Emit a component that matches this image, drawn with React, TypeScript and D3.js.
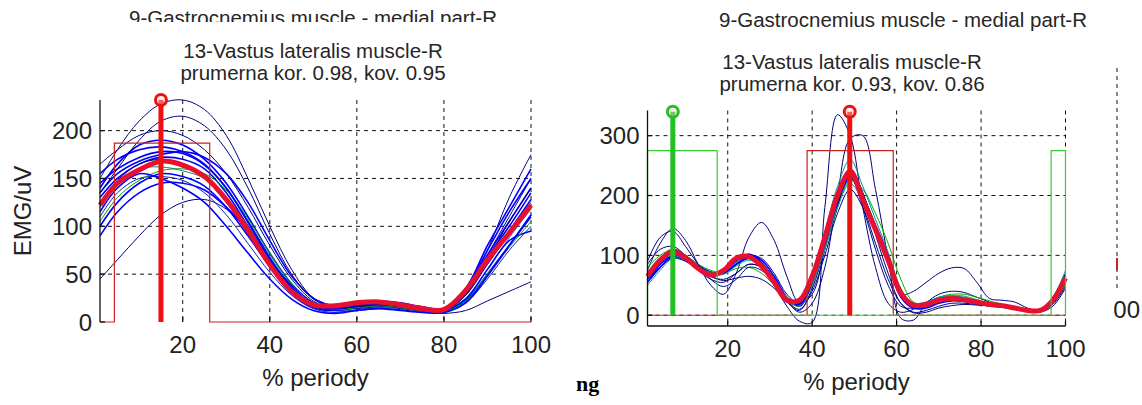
import * as d3 from "d3";
import React, { useEffect, useRef } from "react";

const W = 1142;
const H = 405;

// ---- left panel: 13-Vastus lateralis muscle-R ----
const periodL = [1, 5, 10, 15, 20, 25, 30, 35, 40, 45, 50, 55, 60, 65, 70, 75, 80, 85, 90, 95, 100];
const meanL = [122, 145, 159, 168, 164, 152, 128, 96, 60, 32, 18, 17, 20, 21, 18, 14, 13, 33, 65, 93, 122];
const curvesL = [
  [150, 180, 210, 228, 232, 222, 195, 150, 100, 55, 25, 15, 14, 16, 15, 12, 12, 30, 75, 130, 175],
  [45, 65, 90, 112, 125, 128, 118, 95, 65, 38, 20, 12, 12, 14, 13, 10, 9, 12, 22, 32, 42],
  [165, 180, 195, 200, 195, 180, 155, 120, 80, 45, 22, 14, 16, 18, 17, 14, 13, 28, 70, 110, 150],
  [130, 150, 165, 172, 170, 160, 135, 100, 65, 35, 18, 15, 18, 20, 18, 15, 14, 30, 62, 95, 128],
  [100, 125, 145, 155, 152, 142, 120, 90, 58, 30, 15, 12, 15, 17, 15, 12, 11, 22, 50, 80, 110],
  [140, 165, 185, 190, 185, 170, 145, 110, 72, 40, 20, 15, 18, 20, 18, 14, 13, 35, 75, 115, 150],
  [110, 135, 150, 152, 148, 135, 112, 82, 52, 28, 14, 10, 13, 15, 14, 11, 10, 20, 45, 75, 100],
  [155, 170, 180, 183, 178, 165, 140, 105, 68, 36, 18, 14, 17, 19, 17, 13, 12, 30, 70, 105, 140],
  [120, 145, 160, 162, 158, 150, 130, 100, 68, 38, 20, 16, 19, 21, 19, 15, 13, 25, 55, 88, 118],
  [90, 115, 135, 145, 145, 138, 120, 95, 65, 38, 20, 14, 16, 18, 16, 13, 12, 24, 55, 85, 95],
  [135, 155, 168, 175, 178, 172, 155, 125, 85, 48, 25, 17, 20, 22, 20, 16, 14, 35, 80, 120, 160],
  [125, 148, 165, 170, 165, 150, 125, 92, 58, 30, 16, 13, 16, 18, 16, 13, 12, 28, 60, 92, 125],
  [105, 130, 148, 158, 160, 155, 138, 108, 72, 40, 19, 13, 15, 17, 15, 12, 11, 22, 50, 78, 105],
  [145, 160, 172, 178, 176, 164, 140, 104, 66, 34, 17, 14, 17, 19, 17, 14, 13, 32, 68, 100, 135],
  [135, 160, 190, 210, 215, 205, 180, 140, 92, 50, 24, 15, 16, 18, 16, 13, 12, 28, 65, 105, 140],
  [115, 140, 155, 150, 140, 125, 100, 72, 45, 24, 12, 9, 12, 14, 12, 10, 10, 20, 48, 80, 112],
];
const colorsL = ["#000080", "#000080", "#000080", "#0000ff", "#0000ff", "#0000ff", "#1020c0", "#0000ff",
  "#008c8c", "#0000ff", "#0000ff", "#000080", "#00a000", "#0000ff", "#000080", "#0000ff"];
const activeL = [[4.3, 26.2]];
const activeLevelL = 187;
const peakL = { x: 15, y: 232 };
const yTicksL = [0, 50, 100, 150, 200];

// ---- right panel: 9-Gastrocnemius muscle - medial part-R ----
const periodR = [1, 4, 7, 10, 13, 16, 19, 22, 25, 28, 31, 34, 37, 40, 43, 46, 49, 52, 55, 58, 61, 64, 67, 70, 73, 76, 79, 82, 85, 88, 91, 94, 97, 100];
const meanR = [65, 92, 106, 96, 78, 67, 75, 95, 98, 82, 55, 25, 25, 65, 130, 200, 240, 193, 143, 92, 37, 17, 18, 25, 28, 26, 22, 18, 16, 12, 8, 8, 25, 62];
const curvesR = [
  [55, 85, 110, 100, 80, 65, 60, 70, 85, 80, 50, 15, -10, -12, 180, 335, 300, 180, 80, 20, 5, 10, 22, 28, 27, 24, 20, 17, 14, 10, 7, 7, 22, 55],
  [60, 80, 95, 90, 75, 60, 55, 70, 85, 80, 55, 25, 5, 20, 80, 200, 295, 300, 210, 95, -5, -8, 20, 35, 40, 38, 30, 22, 15, 10, 6, 8, 30, 70],
  [75, 120, 145, 125, 85, 50, 35, 70, 130, 155, 125, 65, 20, 35, 110, 200, 230, 180, 110, 50, 15, 12, 20, 30, 32, 28, 22, 18, 15, 12, 8, 10, 28, 70],
  [70, 95, 110, 100, 85, 72, 70, 85, 100, 95, 70, 35, 20, 55, 120, 190, 230, 200, 150, 90, 35, 40, 55, 70, 79, 78, 55, 28, 25, 22, 12, 8, 30, 65],
  [60, 85, 100, 95, 82, 72, 70, 85, 100, 92, 65, 30, 15, 55, 120, 185, 230, 195, 150, 100, 40, 15, 15, 22, 25, 25, 22, 18, 15, 12, 8, 8, 22, 55],
  [70, 95, 108, 98, 80, 68, 72, 90, 102, 88, 60, 28, 20, 60, 125, 195, 235, 190, 140, 85, 30, 12, 15, 22, 26, 24, 20, 17, 15, 12, 8, 9, 28, 65],
  [50, 75, 95, 92, 80, 72, 72, 88, 95, 85, 60, 30, 25, 70, 140, 215, 260, 215, 160, 105, 45, 18, 20, 28, 32, 30, 25, 20, 16, 12, 9, 10, 30, 75],
  [80, 100, 110, 100, 85, 75, 70, 78, 80, 70, 50, 25, 15, 50, 115, 180, 225, 210, 170, 120, 60, 22, 20, 30, 35, 35, 30, 24, 18, 13, 9, 8, 20, 50],
  [90, 130, 140, 115, 85, 60, 48, 60, 80, 75, 55, 25, 10, 40, 100, 170, 210, 180, 120, 60, 20, 5, 8, 15, 20, 20, 18, 15, 13, 10, 6, 5, 15, 45],
  [55, 80, 98, 92, 78, 68, 70, 85, 95, 85, 60, 28, 18, 55, 120, 190, 238, 200, 148, 90, 35, 12, 12, 20, 24, 23, 20, 17, 14, 11, 7, 7, 25, 60],
  [85, 110, 115, 100, 80, 65, 58, 62, 65, 60, 45, 22, 8, 45, 110, 180, 245, 205, 135, 70, 20, 4, 5, 12, 16, 18, 17, 16, 14, 12, 8, 6, 18, 48],
  [65, 90, 100, 92, 80, 70, 68, 82, 92, 82, 58, 30, 22, 55, 110, 180, 220, 190, 145, 95, 42, 20, 22, 30, 33, 32, 26, 20, 16, 12, 8, 9, 26, 65],
];
const colorsR = ["#000080", "#000080", "#000080", "#000080", "#0000ff", "#0000ff", "#008c8c",
  "#00b000", "#000080", "#0000ff", "#000080", "#1aa0a0"];
const redActiveR = [[38.8, 59.2]];
const greenActiveR = [[1, 17.5], [96.6, 100]];
const activeLevelR = 275;
const peaksR = [{ x: 7, y: 340, c: "#22c022" }, { x: 48.9, y: 340, c: "#ee1111" }];
const yTicksR = [0, 100, 200, 300];

const xTicks = [20, 40, 60, 80, 100];
const font = "'Liberation Sans', Arial, sans-serif";

function stepPoints(spans, level) {
  const pts = [[1, 0]];
  spans.forEach(([a, b]) => {
    pts.push([a, 0], [a, level], [b, level], [b, 0]);
  });
  pts.push([100, 0]);
  return pts;
}

function drawPanel(svg, p) {
  const x = d3.scaleLinear().domain([1, 100]).range([p.left, p.right]);
  const y = d3.scaleLinear().domain(p.yDomain).range([p.bottom, p.top]);
  const g = svg.append("g");

  // dotted grid
  g.append("g")
    .selectAll("line")
    .data(xTicks)
    .join("line")
    .attr("x1", (d) => x(d)).attr("x2", (d) => x(d))
    .attr("y1", p.top).attr("y2", p.bottom)
    .attr("stroke", "#111").attr("stroke-dasharray", "4,4");
  g.append("g")
    .selectAll("line")
    .data(p.yTicks.filter((d) => d > p.yDomain[0]))
    .join("line")
    .attr("x1", p.left).attr("x2", p.right)
    .attr("y1", (d) => y(d)).attr("y2", (d) => y(d))
    .attr("stroke", "#111").attr("stroke-dasharray", "4,4");

  const line = d3.line().x((d) => x(d[0])).y((d) => y(d[1])).curve(d3.curveCatmullRom);

  // single trials
  g.append("g")
    .attr("fill", "none")
    .selectAll("path")
    .data(p.curves)
    .join("path")
    .attr("d", (c) => line(c.map((v, i) => [p.period[i], v])))
    .attr("stroke", (c, i) => p.colors[i % p.colors.length])
    .attr("stroke-width", (c, i) => (p.colors[i % p.colors.length] === "#0000ff" ? 1.6 : 1));

  // mean curve
  g.append("path")
    .attr("d", line(p.mean.map((v, i) => [p.period[i], v])))
    .attr("fill", "none")
    .attr("stroke", "#e8102e")
    .attr("stroke-width", 5);

  // activity windows
  const stepLine = d3.line().x((d) => x(d[0])).y((d) => y(d[1]));
  p.steps.forEach((s) => {
    g.append("path")
      .attr("d", stepLine(stepPoints(s.spans, s.level)))
      .attr("fill", "none")
      .attr("stroke", s.color)
      .attr("stroke-width", 1.2);
  });

  // peak stems
  p.peaks.forEach((pk) => {
    g.append("line")
      .attr("x1", x(pk.x)).attr("x2", x(pk.x))
      .attr("y1", y(0)).attr("y2", y(pk.y))
      .attr("stroke", pk.c).attr("stroke-width", 5);
    g.append("circle")
      .attr("cx", x(pk.x)).attr("cy", y(pk.y)).attr("r", 5.5)
      .attr("fill", "#ffd0d0").attr("fill-opacity", 0.4)
      .attr("stroke", pk.c).attr("stroke-width", 3);
  });

  // axes (box off, ticks inside)
  const ax = g.append("g").attr("stroke", "#111").attr("stroke-width", 1.3);
  ax.append("line").attr("x1", p.left).attr("x2", p.left).attr("y1", p.top).attr("y2", p.bottom);
  if (p.blackBottom)
    ax.append("line").attr("x1", p.left).attr("x2", p.right).attr("y1", p.bottom).attr("y2", p.bottom);
  ax.selectAll(".xt").data(xTicks).join("line")
    .attr("x1", (d) => x(d)).attr("x2", (d) => x(d))
    .attr("y1", p.bottom).attr("y2", p.bottom - 5);
  ax.selectAll(".yt").data(p.yTicks).join("line")
    .attr("x1", p.left).attr("x2", p.left + 5)
    .attr("y1", (d) => y(d)).attr("y2", (d) => y(d));

  const lab = g.append("g").attr("font-family", font).attr("fill", "#222").attr("font-size", 24);
  lab.selectAll(".xl").data(xTicks).join("text")
    .attr("x", (d) => x(d)).attr("y", p.bottom + 31)
    .attr("text-anchor", "middle").text((d) => d);
  lab.selectAll(".yl").data(p.yTicks).join("text")
    .attr("x", p.left - 8).attr("y", (d) => y(d) + 8.5)
    .attr("text-anchor", "end").text((d) => d);
  lab.append("text")
    .attr("x", (p.left + p.right) / 2).attr("y", p.bottom + 64)
    .attr("text-anchor", "middle").text("% periody");
  if (p.ylabel)
    lab.append("text")
      .attr("transform", `translate(31,${(p.top + p.bottom) / 2}) rotate(-90)`)
      .attr("text-anchor", "middle").text(p.ylabel);

  const tt = g.append("g").attr("font-family", font).attr("fill", "#262626").attr("font-size", 20.5).attr("text-anchor", "middle");
  tt.append("text").attr("x", p.t1x).attr("y", p.t1y).text(p.title1);
  tt.append("text").attr("x", p.t2x).attr("y", p.t2y).text(p.title2);
  tt.append("text").attr("x", p.t2x).attr("y", p.t2y + 22).text(p.title3);
}

function Chart() {
  const ref = useRef(null);
  useEffect(() => {
    if (!ref.current) return;
    const svg = d3.select(ref.current);
    svg.selectChildren().remove();
    svg.append("rect").attr("width", W).attr("height", H).attr("fill", "#fff");

    drawPanel(svg, {
      left: 100, right: 531, top: 100, bottom: 322, yDomain: [0, 232],
      period: periodL, mean: meanL, curves: curvesL, colors: colorsL,
      steps: [{ spans: activeL, level: activeLevelL, color: "#cc2020" }],
      peaks: [{ x: peakL.x, y: peakL.y, c: "#ee1111" }],
      yTicks: yTicksL, ylabel: "EMG/uV", blackBottom: false,
      title1: "9-Gastrocnemius muscle - medial part-R", t1x: 313, t1y: 25,
      title2: "13-Vastus lateralis muscle-R", title3: "prumerna kor. 0.98, kov. 0.95", t2x: 313, t2y: 58,
    });
    // the upper title of the left figure is cut off by the panel below it
    svg.append("rect").attr("x", 0).attr("y", 22).attr("width", 560).attr("height", 14).attr("fill", "#fff");

    drawPanel(svg, {
      left: 647.5, right: 1065.5, top: 110.5, bottom: 326, yDomain: [-18, 342],
      period: periodR, mean: meanR, curves: curvesR, colors: colorsR,
      steps: [
        { spans: redActiveR, level: activeLevelR, color: "#cc2020" },
        { spans: greenActiveR, level: activeLevelR, color: "#33cc33" },
      ],
      peaks: peaksR, yTicks: yTicksR, ylabel: null, blackBottom: true,
      title1: "9-Gastrocnemius muscle - medial part-R", t1x: 903, t1y: 27,
      title2: "13-Vastus lateralis muscle-R", title3: "prumerna kor. 0.93, kov. 0.86", t2x: 852, t2y: 69,
    });

    // fragment of the neighbouring figure on the far right
    svg.append("line").attr("x1", 1117).attr("x2", 1117).attr("y1", 68).attr("y2", 290)
      .attr("stroke", "#111").attr("stroke-dasharray", "4,4");
    svg.append("line").attr("x1", 1117).attr("x2", 1117).attr("y1", 258).attr("y2", 270)
      .attr("stroke", "#cc2020").attr("stroke-width", 2);
    svg.append("defs").append("clipPath").attr("id", "cutR")
      .append("rect").attr("x", 1113).attr("y", 280).attr("width", 40).attr("height", 50);
    svg.append("text").attr("clip-path", "url(#cutR)").attr("x", 1140).attr("y", 318)
      .attr("text-anchor", "end").attr("font-family", font).attr("font-size", 24).attr("fill", "#222")
      .text("100");

    // caption fragment under the figure
    svg.append("text").attr("x", 576).attr("y", 391).attr("font-family", "'Liberation Serif', serif")
      .attr("font-weight", "bold").attr("font-size", 22).attr("fill", "#000").text("ng");
  }, []);
  return <svg ref={ref} width={W} height={H} style={{ position: "absolute", left: 0, top: 0 }} />;
}

export default function App() {
  return <Chart />;
}
